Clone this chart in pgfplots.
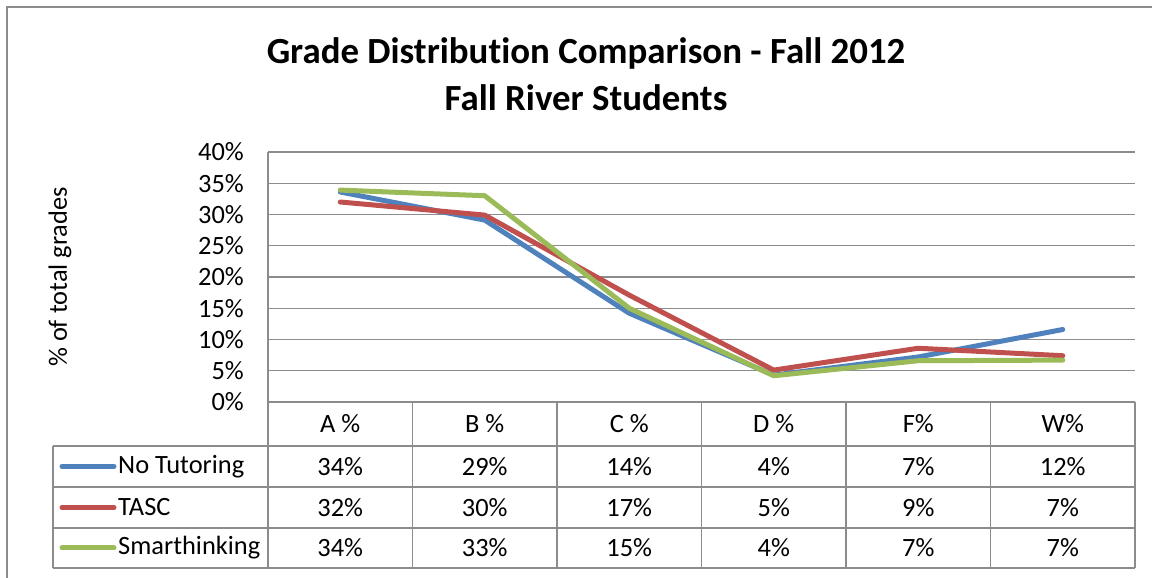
\documentclass[border=0pt]{standalone}
\usepackage{fontspec}
\setmainfont{Carlito}[Ligatures=NoCommon]
\usepackage{pgfplots}
\pgfplotsset{compat=1.18}
\definecolor{cblue}{HTML}{4F81BD}
\definecolor{cred}{HTML}{C0504D}
\definecolor{cgreen}{HTML}{9BBB59}
\definecolor{gridc}{HTML}{8C8C8C}
\newcommand{\lblfont}{\fontsize{26.5}{31}\selectfont}
\begin{document}
\begin{tikzpicture}[x=1bp,y=1bp]
\useasboundingbox (0,0) rectangle (1152,578);
\draw[gridc, line width=2bp] (7,0) -- (7,571) -- (1152,571);
\node[font=\fontsize{37}{44}\selectfont\bfseries] at (586,525) {Grade Distribution Comparison - Fall 2012};
\node[font=\fontsize{37}{44}\selectfont\bfseries] at (586,480) {Fall River Students};
\begin{axis}[
  at={(268bp,176bp)}, anchor=south west,
  scale only axis, width=867bp, height=250bp,
  xmin=-0.5, xmax=5.5, ymin=0, ymax=40,
  ytick={0,5,...,40},
  yticklabel={\pgfmathprintnumber{\tick}\%},
  /pgf/number format/assume math mode=true,
  xtick={0,...,5},
  xticklabels={A \%, B \%, C \%, D \%, F\%, W\%},
  xticklabel style={font=\lblfont, anchor=center, yshift=-22bp, inner sep=0pt},
  yticklabel style={font=\lblfont, anchor=east, inner sep=0pt, xshift=-24bp},
  major tick length=0pt,
  axis x line*=bottom, axis y line*=left,
  axis line style={gridc, line width=1.3bp, -},
  ymajorgrids, grid style={gridc, line width=1.3bp},
  ylabel={\% of total grades},
  ylabel style={font=\lblfont, at={(axis description cs:-0.24,0.5)}, anchor=center},
  clip=false,
]
\addplot[cblue, line width=5bp, line join=round, line cap=round] coordinates {(0,33.6) (1,29.1) (2,14.2) (3,4.3) (4,7.2) (5,11.6)};
\addplot[cred, line width=5bp, line join=round, line cap=round] coordinates {(0,32.0) (1,29.9) (2,17.1) (3,5.1) (4,8.6) (5,7.4)};
\addplot[cgreen, line width=5bp, line join=round, line cap=round] coordinates {(0,33.9) (1,33.0) (2,15.0) (3,4.2) (4,6.6) (5,6.7)};
\end{axis}
% data table
\begin{scope}[gridc, line width=1.3bp]
\foreach \xb in {268,412.5,557,701.5,846,990.5,1135} {\draw (\xb,176) -- (\xb,10);}
\draw (53,132) -- (53,10);
\foreach \yb in {132,91,50,10} {\draw (53,\yb) -- (1135,\yb);}
\end{scope}
\draw[cblue, line width=5bp, line cap=round] (62,111.5) -- (114,111.5);
\draw[cred, line width=5bp, line cap=round] (62,70.5) -- (114,70.5);
\draw[cgreen, line width=5bp, line cap=round] (62,30) -- (114,30);
\node[font=\lblfont, anchor=west, inner sep=0pt] at (118,111.5) {No Tutoring};
\node[font=\lblfont, anchor=west, inner sep=0pt] at (118,70.5) {TASC};
\node[font=\lblfont, anchor=west, inner sep=0pt] at (118,30) {Smarthinking};
\foreach \v [count=\i from 0] in {34,29,14,4,7,12} {\node[font=\lblfont] at (340.25+144.5*\i,111.5) {\v\%};}
\foreach \v [count=\i from 0] in {32,30,17,5,9,7} {\node[font=\lblfont] at (340.25+144.5*\i,70.5) {\v\%};}
\foreach \v [count=\i from 0] in {34,33,15,4,7,7} {\node[font=\lblfont] at (340.25+144.5*\i,30) {\v\%};}
\end{tikzpicture}
\end{document}
